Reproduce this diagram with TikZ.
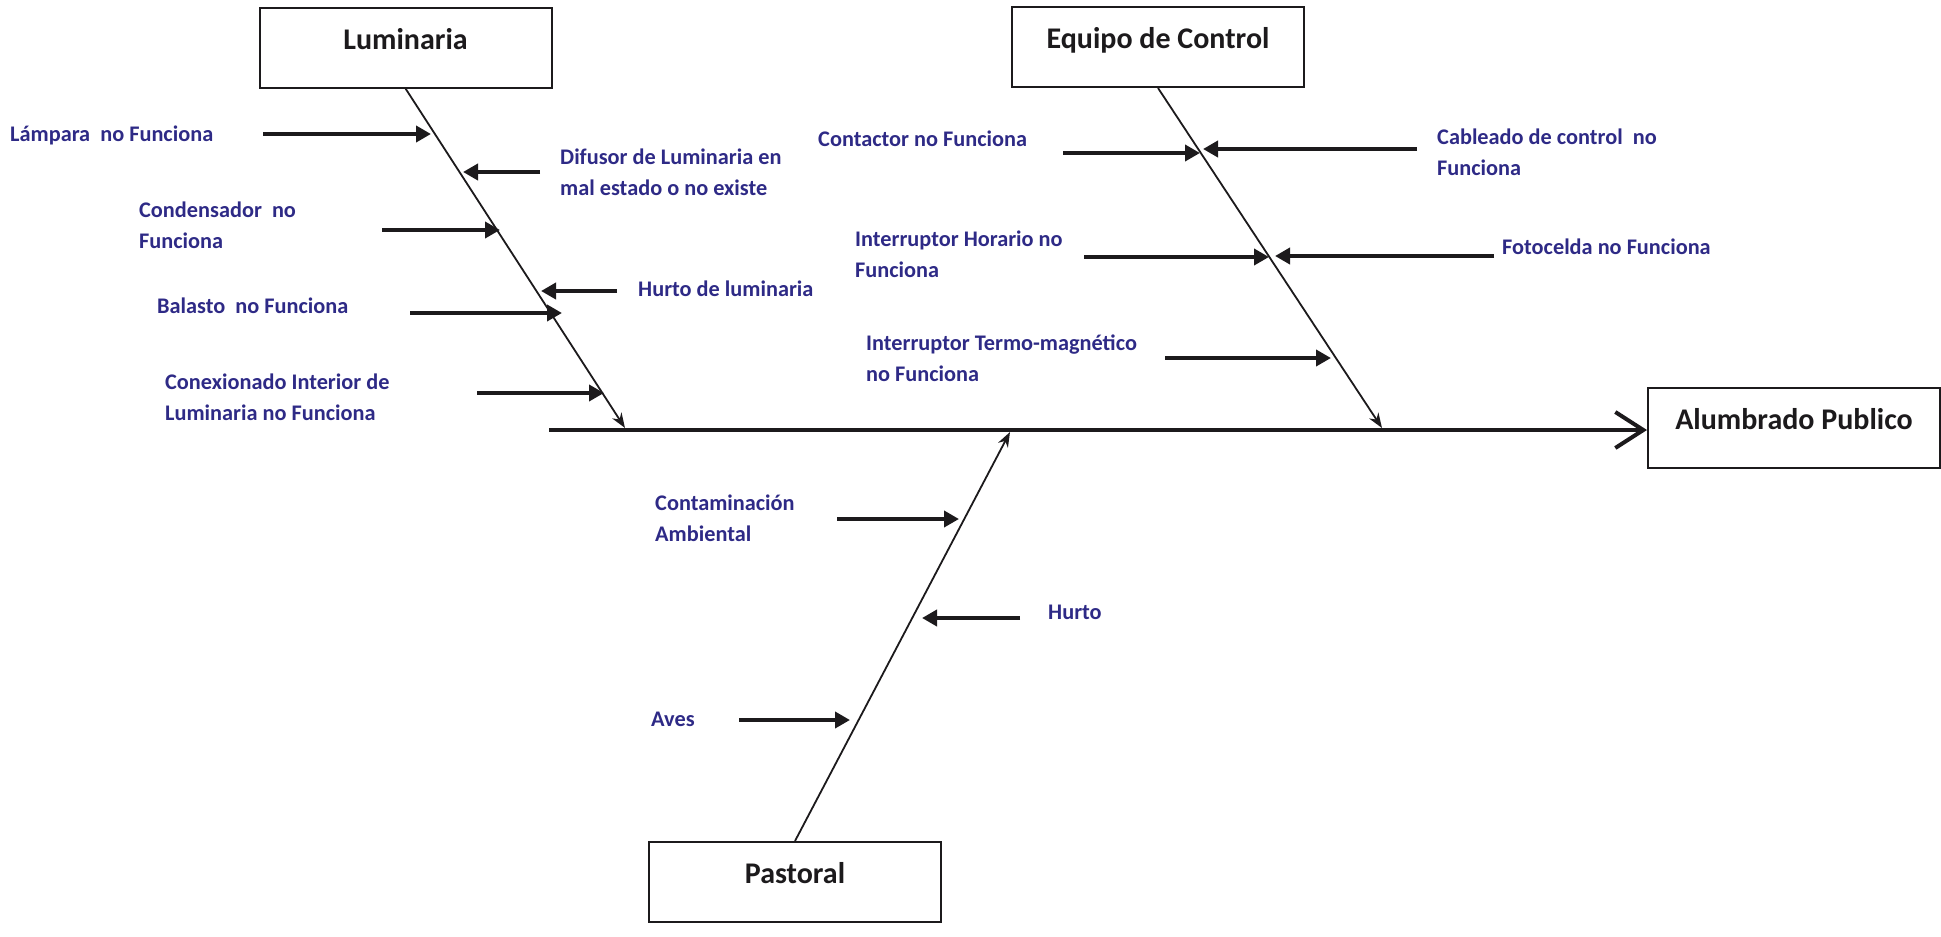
\documentclass[tikz,border=0pt]{standalone}
\usepackage{fontspec}
\setmainfont{Carlito}
\usepackage{tikz}
\usetikzlibrary{positioning,calc,arrows.meta}
\definecolor{ink}     {HTML}{1C1A1C}
\definecolor{causeink}{HTML}{2E2A86}
\tikzset{
  >=Stealth,
  % --- nodes
  box/.style   = {draw=ink, line width=2pt, fill=white, minimum width=292pt,
                  minimum height=80pt, inner sep=0pt, text=ink,
                  font=\fontsize{30}{36}\selectfont\bfseries,
                  text height=20pt, text depth=17pt},
  cause/.style = {anchor=west, align=left, inner sep=0pt, text=causeink,
                  font=\fontsize{22.3}{31}\selectfont\bfseries},
  % --- edges
  spine/.style = {-{Straight Barb[length=28pt,width=36pt,line width=4pt]},
                  line width=4.5pt, draw=ink},
  bone/.style  = {-{Stealth[length=15pt,width=11pt]}, line width=1.8pt, draw=ink},
  hit/.style   = {-{Triangle[length=15pt,width=16pt]}, line width=4.5pt, draw=ink},
}

\begin{document}
\begin{tikzpicture}[x=1pt,y=-1pt]
  \useasboundingbox (0,0) rectangle (1941,937);
  % heads and effect
  \node[box] (lum) at (405.5,47.5) {Luminaria};
  \node[box] (ctl) at (1158,47)    {Equipo de Control};
  \node[box] (alu) at (1794,428)   {Alumbrado Publico};
  \node[box] (pas) at (795,882)    {Pastoral};

  % spine and bones
  \coordinate (sp)     at (549,430);
  \coordinate (lumend) at (625,428);
  \coordinate (ctlend) at (1382,428);
  \coordinate (pasend) at (1010,432);
  \draw[spine] (sp) -- (sp -| alu.west);
  \draw[bone] (lum.south) -- (lumend);
  \draw[bone] (ctl.south) -- (ctlend);
  \draw[bone] (pas.north) -- (pasend);

  % causes: Luminaria
  \node[cause] (l1) at (10,135)  {Lámpara\ \ no Funciona};
  \node[cause] (l2) at (560,172) {Difusor de Luminaria en\\mal estado o no existe};
  \node[cause] (l3) at (139,225) {Condensador\ \ no\\Funciona};
  \node[cause] (l4) at (638,289) {Hurto de luminaria};
  \node[cause] (l5) at (157,306) {Balasto\ \ no Funciona};
  \node[cause] (l6) at (165,397) {Conexionado Interior de\\Luminaria no Funciona};
  \coordinate (l1a) at (263,134); \coordinate (l1b) at (431,134);
  \coordinate (l2a) at (540,172); \coordinate (l2b) at (463,172);
  \coordinate (l3a) at (382,230); \coordinate (l3b) at (500,230);
  \coordinate (l4a) at (617,291); \coordinate (l4b) at (541,291);
  \coordinate (l5a) at (410,313); \coordinate (l5b) at (562,313);
  \coordinate (l6a) at (477,393); \coordinate (l6b) at (604,393);
  \draw[hit] (l1a) -- (l1b); \draw[hit] (l2a) -- (l2b);
  \draw[hit] (l3a) -- (l3b); \draw[hit] (l4a) -- (l4b);
  \draw[hit] (l5a) -- (l5b); \draw[hit] (l6a) -- (l6b);

  % causes: Equipo de Control
  \node[cause] (c1) at (818,139)  {Contactor no Funciona};
  \node[cause] (c2) at (1437,152) {Cableado de control\ \ no\\Funciona};
  \node[cause] (c3) at (855,254)  {Interruptor Horario no\\Funciona};
  \node[cause] (c4) at (1502,247) {Fotocelda no Funciona};
  \node[cause] (c5) at (866,358)  {Interruptor Termo-magnético\\no Funciona};
  \coordinate (c1a) at (1063,153); \coordinate (c1b) at (1200,153);
  \coordinate (c2a) at (1417,149); \coordinate (c2b) at (1203,149);
  \coordinate (c3a) at (1084,257); \coordinate (c3b) at (1269,257);
  \coordinate (c4a) at (1494,256); \coordinate (c4b) at (1275,256);
  \coordinate (c5a) at (1165,358); \coordinate (c5b) at (1331,358);
  \draw[hit] (c1a) -- (c1b); \draw[hit] (c2a) -- (c2b);
  \draw[hit] (c3a) -- (c3b); \draw[hit] (c4a) -- (c4b);
  \draw[hit] (c5a) -- (c5b);

  % causes: Pastoral
  \node[cause] (p1) at (655,518)  {Contaminación\\Ambiental};
  \node[cause] (p2) at (1048,612) {Hurto};
  \node[cause] (p3) at (651,719)  {Aves};
  \coordinate (p1a) at (837,519);  \coordinate (p1b) at (959,519);
  \coordinate (p2a) at (1020,618); \coordinate (p2b) at (922,618);
  \coordinate (p3a) at (739,720);  \coordinate (p3b) at (850,720);
  \draw[hit] (p1a) -- (p1b); \draw[hit] (p2a) -- (p2b);
  \draw[hit] (p3a) -- (p3b);
\end{tikzpicture}
\end{document}
